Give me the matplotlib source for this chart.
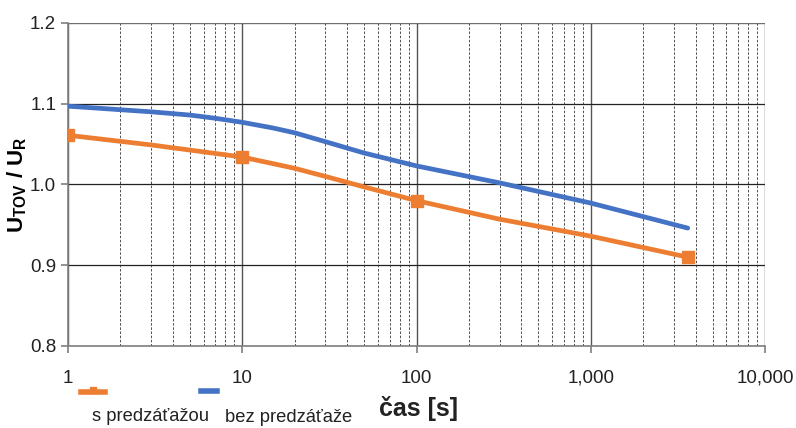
import numpy as np
import matplotlib
matplotlib.use('Agg')
import matplotlib.pyplot as plt
from matplotlib.lines import Line2D
from matplotlib.ticker import FixedLocator, FuncFormatter, LogLocator, NullFormatter

plt.rcParams['font.family'] = ['Liberation Sans', 'DejaVu Sans']
plt.rcParams['mathtext.fontset'] = 'custom'
plt.rcParams['mathtext.rm'] = 'Liberation Sans'
plt.rcParams['mathtext.bf'] = 'Liberation Sans:bold'

# data
t_pre = [1, 3, 10, 20, 30, 50, 100, 300, 1000, 3600]
u_pre = [1.061, 1.049, 1.034, 1.020, 1.010, 0.997, 0.980, 0.957, 0.936, 0.910]
pre_marks = [0, 2, 6, 9]

t_nopre = [1, 3, 5, 7, 10, 15, 20, 30, 50, 100, 300, 1000, 3600]
u_nopre = [1.097, 1.090, 1.086, 1.082, 1.077, 1.070, 1.064, 1.053, 1.039, 1.023, 1.002, 0.977, 0.946]

x_ticks = [1, 10, 100, 1000, 10000]
x_labels = ['1', '10', '100', '1,000', '10,000']
y_ticks = [0.8, 0.9, 1.0, 1.1, 1.2]

orange = '#ED7D31'
blue = '#4472C4'

fig = plt.figure(figsize=(7.96, 4.28), dpi=100)
ax = fig.add_axes([0.0854, 0.1916, 0.8757, 0.7547])

ax.set_xscale('log')
ax.set_xlim(1, 10000)
ax.set_ylim(0.8, 1.2)

ax.plot(t_nopre, u_nopre, color=blue, lw=3.4, solid_capstyle='round',
        solid_joinstyle='round', zorder=3)
ax.plot(t_pre, u_pre, color=orange, lw=3.4, marker='s', markersize=8,
        solid_joinstyle='round', markevery=pre_marks, zorder=4)

ax.xaxis.set_major_locator(FixedLocator(x_ticks))
ax.xaxis.set_major_formatter(FuncFormatter(lambda v, p: x_labels[x_ticks.index(v)] if v in x_ticks else ''))
ax.xaxis.set_minor_locator(LogLocator(base=10, subs=np.arange(2, 10)))
ax.xaxis.set_minor_formatter(NullFormatter())
ax.set_yticks(y_ticks)
ax.set_yticklabels(['%.1f' % v for v in y_ticks])

ax.grid(which='major', axis='y', color='#222222', lw=0.9)
ax.grid(which='major', axis='x', color='#555555', lw=1.0)
ax.grid(which='minor', axis='x', color='#333333', lw=0.6, ls=(0, (3, 2)))

for s in ax.spines.values():
    s.set_color('#7f7f7f')
    s.set_linewidth(1.2)
ax.spines['top'].set_visible(False)
ax.spines['right'].set_visible(False)
ax.axhline(1.2, color='#7f7f7f', lw=1.2)

ax.tick_params(axis='both', which='major', labelsize=13.5, colors='#7f7f7f',
               labelcolor='#222222', length=5, width=1.2)
ax.tick_params(axis='x', which='major', pad=12)
ax.tick_params(axis='x', which='minor', length=0)

ax.set_ylabel(r'$\mathbf{U_{TOV}}$ / $\mathbf{U_R}$', fontsize=16, fontweight='bold')
ax.yaxis.set_label_coords(-0.056, 0.5)
fig.text(0.526, 0.045, 'čas [s]', fontsize=18, fontweight='bold', ha='center', va='center',
         color='#222222')

# legend below the plot
fig.add_artist(Line2D([0.102, 0.132], [0.083, 0.083], color=orange, lw=4, transform=fig.transFigure))
fig.add_artist(Line2D([0.117], [0.088], color=orange, marker='s', markersize=4,
                      transform=fig.transFigure))
fig.add_artist(Line2D([0.252, 0.273], [0.087, 0.087], color=blue, lw=4, transform=fig.transFigure))
fig.text(0.115, 0.026, 's predzáťažou', fontsize=13.2, ha='left', va='center', color='#222222')
fig.text(0.283, 0.024, 'bez predzáťaže', fontsize=13.2, ha='left', va='center', color='#222222')

fig.savefig('out.png', dpi=100)
